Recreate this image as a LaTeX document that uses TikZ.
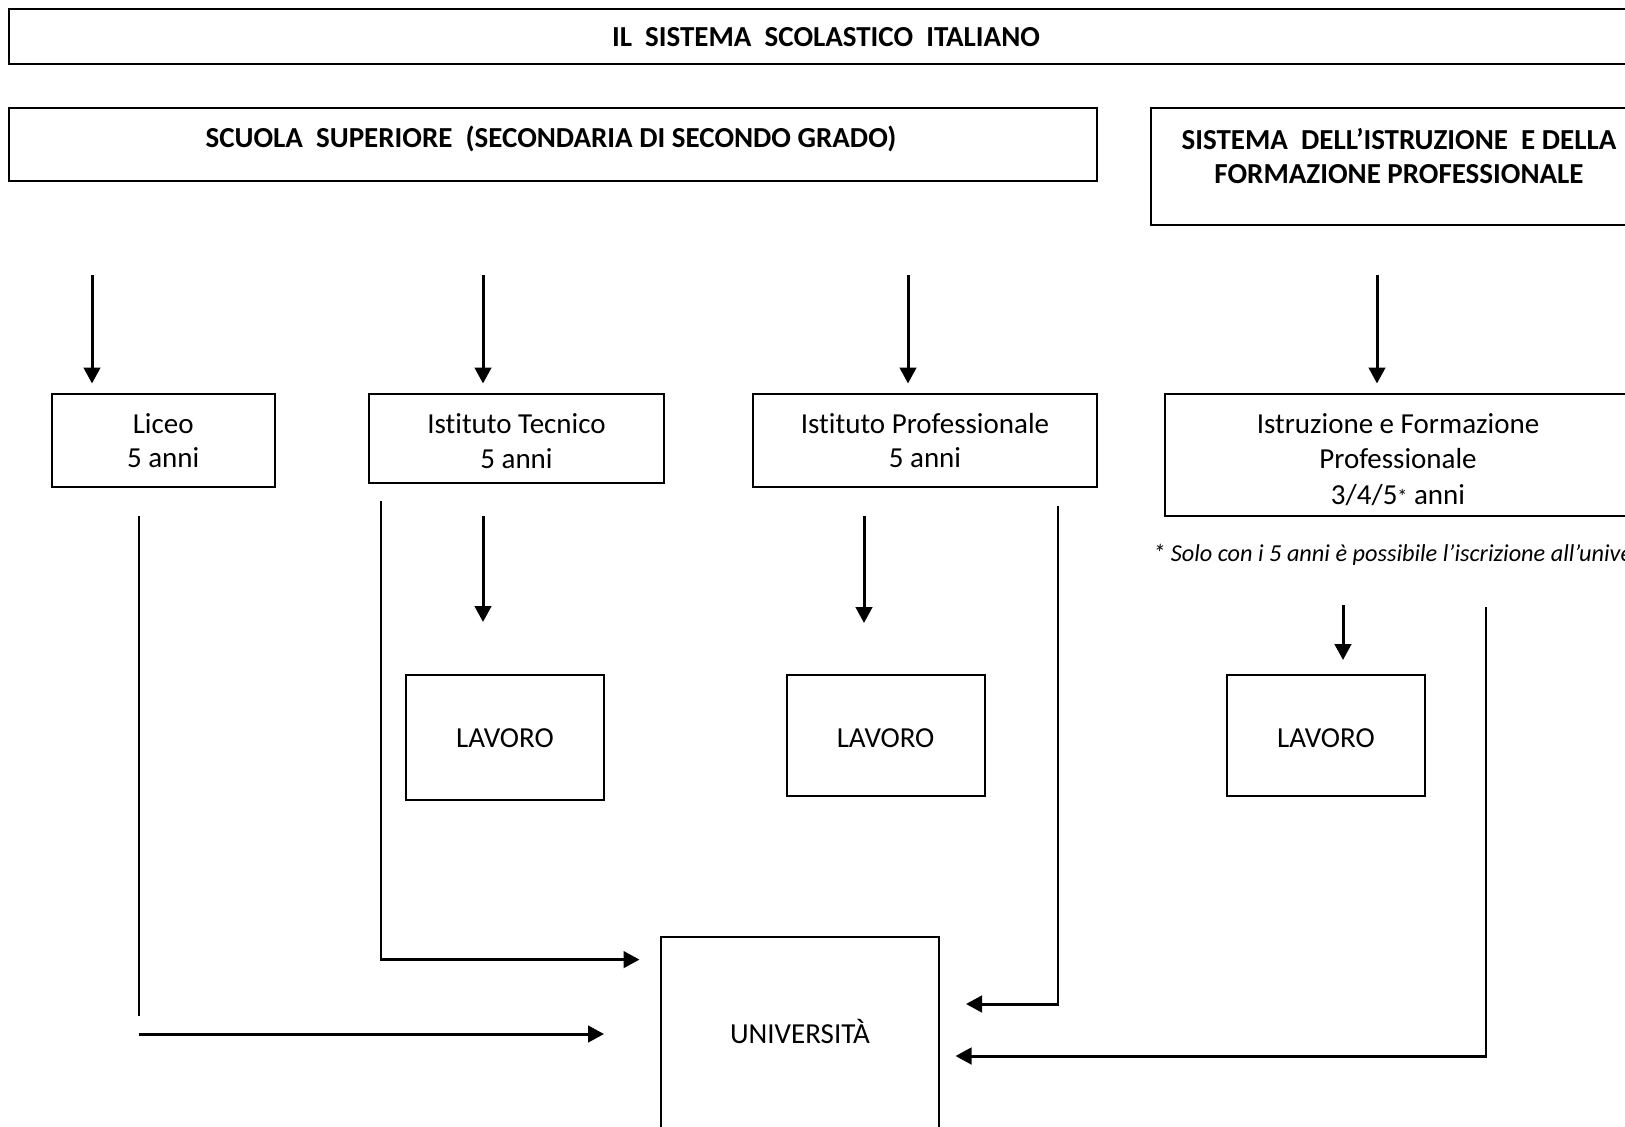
\documentclass[tikz,border=0pt]{standalone}
\usepackage{fontspec}
\setmainfont{Carlito}[Ligatures={NoCommon}]
\usetikzlibrary{arrows.meta}
\newcommand\bodyfs{\fontsize{29}{34.5}\selectfont}
\newcommand\notefs{\fontsize{24.3}{28}\selectfont}
\begin{document}
\begin{tikzpicture}[x=1pt,y=-1pt,
  box/.style={draw,line width=2pt,inner sep=0pt,align=center,font=\bodyfs},
  txt/.style={inner sep=0pt,align=center,font=\bodyfs},
  thin line/.style={line width=1.9pt},
  arr/.style={line width=3pt,-{Triangle[length=16pt,width=16.5pt]}}]
\useasboundingbox (0,0) rectangle (1625,1127);
\clip (0,0) rectangle (1625,1127);
% header boxes
\node[box,minimum width=1633.4pt,minimum height=55pt] (title) at (826,36.8)
  {\bfseries IL\ \ SISTEMA\ \ SCOLASTICO\ \ ITALIANO};
\node[box,minimum width=1087.2pt,minimum height=73.6pt] (scuola) at (553,144.6) {};
\node[txt] (scuolatext) at (551,139) {\bfseries SCUOLA\ \ SUPERIORE\ \ (SECONDARIA DI SECONDO GRADO)};
\node[box,minimum width=495.6pt,minimum height=117pt] (sistema) at (1399,166.4) {};
\node[txt] (sistematext) at (1399,156) {\bfseries SISTEMA\ \ DELL’ISTRUZIONE\ \ E DELLA\\\bfseries FORMAZIONE PROFESSIONALE};
% school boxes
\node[box,minimum width=222.8pt,minimum height=93.3pt] (liceo) at (163.2,440.5) {Liceo\\5 anni};
\node[box,minimum width=295pt,minimum height=89.2pt] (tecnico) at (516.5,438.5) {};
\node[txt] (tecnicotext) at (516.5,441) {Istituto Tecnico\\5 anni};
\node[box,minimum width=343.1pt,minimum height=93.3pt] (prof) at (925,440.5) {Istituto Professionale\\5 anni};
\node[box,minimum width=466pt,minimum height=122pt] (iefp) at (1398,455) {};
\node[txt,font=\fontsize{29}{35.2}\selectfont] (iefptext) at (1398,459.5)
  {Istruzione e Formazione\\Professionale\\3/4/5\raisebox{1pt}{\fontsize{20}{20}\selectfont *} anni};
\node[anchor=west,inner sep=0pt,font=\notefs\itshape] (note) at (1153,554.5)
  {* Solo con i 5 anni è possibile l’iscrizione all’università};
% work boxes
\node[box,minimum width=198pt,minimum height=125.3pt] (lav1) at (505,737.3) {};
\node[txt] (lav1text) at (505,738.3) {LAVORO};
\node[box,minimum width=198pt,minimum height=121.4pt] (lav2) at (885.6,735.4) {};
\node[txt] (lav2text) at (885.6,738.3) {LAVORO};
\node[box,minimum width=198pt,minimum height=121.4pt] (lav3) at (1326,735.4) {};
\node[txt] (lav3text) at (1326,738.3) {LAVORO};
% university
\node[box,minimum width=278pt,minimum height=194pt] (univ) at (800,1034) {};
\node[txt] (univtext) at (800,1031) {UNIVERSITÀ};
% coordinates
\coordinate (d1a) at (92,275);   \coordinate (d1b) at (92,383.5);
\coordinate (d2a) at (483,275);  \coordinate (d2b) at (483,383.5);
\coordinate (d3a) at (908,275);  \coordinate (d3b) at (908,383.5);
\coordinate (d4a) at (1377,275); \coordinate (d4b) at (1377,383.5);
\coordinate (lA) at (139,516);   \coordinate (lB) at (139,1016);
\coordinate (lC) at (139,1034);  \coordinate (lD) at (604,1034);
\coordinate (tA) at (381,500.6); \coordinate (tB) at (381,959.6); \coordinate (tC) at (639.5,959.6);
\coordinate (tw1) at (483,516);  \coordinate (tw2) at (483,622);
\coordinate (pA) at (1058,505.7); \coordinate (pB) at (1058,1004); \coordinate (pC) at (966,1004);
\coordinate (pw1) at (864,516);  \coordinate (pw2) at (864,623);
\coordinate (iw1) at (1343,605); \coordinate (iw2) at (1343,660);
\coordinate (iA) at (1486,607);  \coordinate (iB) at (1486,1056); \coordinate (iC) at (955.5,1056);
% connectors
\draw[arr] (d1a) -- (d1b);
\draw[arr] (d2a) -- (d2b);
\draw[arr] (d3a) -- (d3b);
\draw[arr] (d4a) -- (d4b);
\draw[thin line] (lA) -- (lB);
\draw[arr] (lC) -- (lD);
\draw[thin line] (tA) -- (tB);
\draw[arr] ([xshift=-0.95pt]tB) -- (tC);
\draw[arr] (tw1) -- (tw2);
\draw[thin line] (pA) -- (pB);
\draw[arr] ([xshift=0.95pt]pB) -- (pC);
\draw[arr] (pw1) -- (pw2);
\draw[arr] (iw1) -- (iw2);
\draw[thin line] (iA) -- (iB);
\draw[arr] ([xshift=0.95pt]iB) -- (iC);
\end{tikzpicture}
\end{document}
